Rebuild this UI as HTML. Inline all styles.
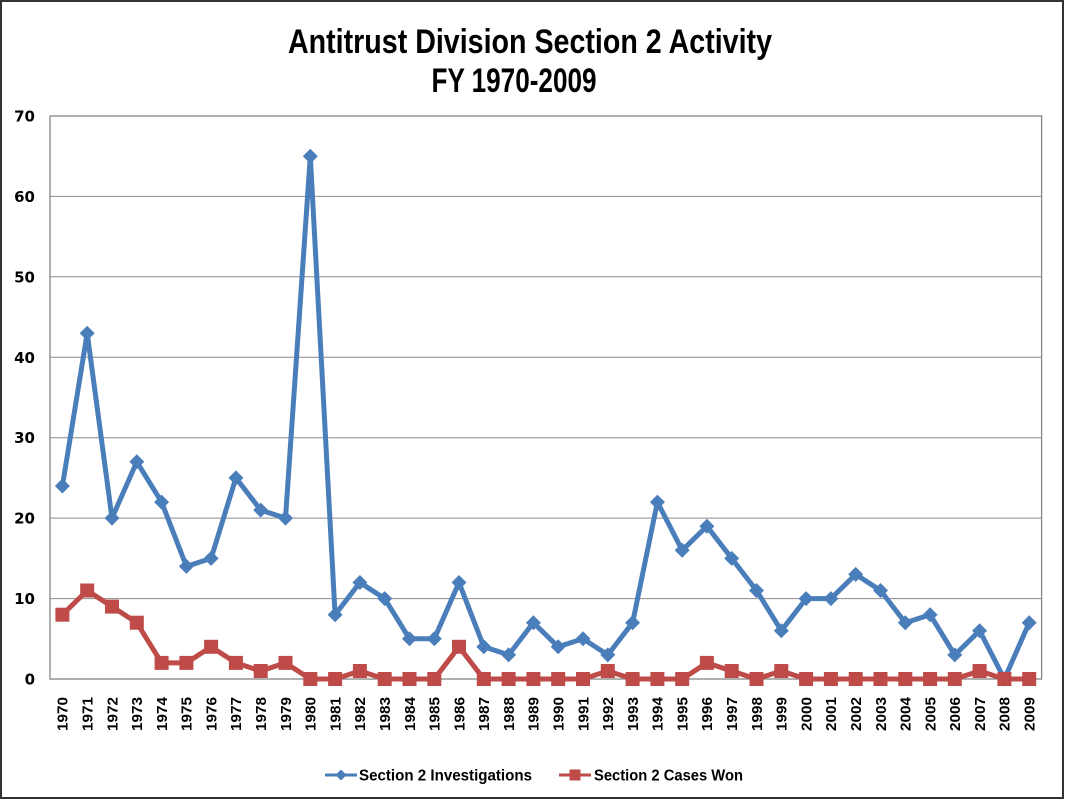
<!DOCTYPE html>
<html><head><meta charset="utf-8"><style>
html,body{margin:0;padding:0;background:#fff;}
svg{display:block;}
</style></head><body>
<svg width="1065" height="800" viewBox="0 0 1065 800" xmlns="http://www.w3.org/2000/svg">
<defs>
<path id="dm" d="M0,-7.5 L7.5,0 L0,7.5 L-7.5,0 Z" fill="#4A7EBB"/>
<rect id="sq" x="-7" y="-7" width="14" height="14" fill="#BE4B48"/>
</defs>
<rect x="0" y="0" width="1065" height="800" fill="#fff"/>
<rect x="1" y="1" width="1062" height="797" fill="none" stroke="#333" stroke-width="2"/>
<g font-family="'Liberation Sans', sans-serif" font-weight="bold" fill="#000">
<text x="530" y="53" font-size="34" text-anchor="middle" textLength="484" lengthAdjust="spacingAndGlyphs">Antitrust Division Section 2 Activity</text>
<text x="514" y="92" font-size="34" text-anchor="middle" textLength="165" lengthAdjust="spacingAndGlyphs">FY 1970-2009</text>
</g>
<!-- gridlines -->
<g stroke="#8c8c8c" stroke-width="1">
<line x1="50" x2="1042" y1="598.6" y2="598.6"/>
<line x1="50" x2="1042" y1="518.1" y2="518.1"/>
<line x1="50" x2="1042" y1="437.7" y2="437.7"/>
<line x1="50" x2="1042" y1="357.3" y2="357.3"/>
<line x1="50" x2="1042" y1="276.8" y2="276.8"/>
<line x1="50" x2="1042" y1="196.4" y2="196.4"/>
</g>
<rect x="50" y="116" width="991.6" height="563" fill="none" stroke="#868686" stroke-width="1.3"/>
<!-- y labels -->
<g font-family="'DejaVu Sans', sans-serif" font-weight="bold" font-size="15" text-anchor="end" fill="#000">
<text x="35" y="684.5">0</text>
<text x="35" y="604.1">10</text>
<text x="35" y="523.6">20</text>
<text x="35" y="443.2">30</text>
<text x="35" y="362.8">40</text>
<text x="35" y="282.3">50</text>
<text x="35" y="201.9">60</text>
<text x="35" y="121.5">70</text>
</g>
<!-- x labels -->
<g font-family="'Liberation Sans', sans-serif" font-weight="bold" font-size="15" text-anchor="end" fill="#000">
<text transform="translate(67.7,697) rotate(-90)" textLength="34" lengthAdjust="spacingAndGlyphs">1970</text>
<text transform="translate(92.5,697) rotate(-90)" textLength="34" lengthAdjust="spacingAndGlyphs">1971</text>
<text transform="translate(117.3,697) rotate(-90)" textLength="34" lengthAdjust="spacingAndGlyphs">1972</text>
<text transform="translate(142.1,697) rotate(-90)" textLength="34" lengthAdjust="spacingAndGlyphs">1973</text>
<text transform="translate(166.9,697) rotate(-90)" textLength="34" lengthAdjust="spacingAndGlyphs">1974</text>
<text transform="translate(191.7,697) rotate(-90)" textLength="34" lengthAdjust="spacingAndGlyphs">1975</text>
<text transform="translate(216.4,697) rotate(-90)" textLength="34" lengthAdjust="spacingAndGlyphs">1976</text>
<text transform="translate(241.2,697) rotate(-90)" textLength="34" lengthAdjust="spacingAndGlyphs">1977</text>
<text transform="translate(266.0,697) rotate(-90)" textLength="34" lengthAdjust="spacingAndGlyphs">1978</text>
<text transform="translate(290.8,697) rotate(-90)" textLength="34" lengthAdjust="spacingAndGlyphs">1979</text>
<text transform="translate(315.6,697) rotate(-90)" textLength="34" lengthAdjust="spacingAndGlyphs">1980</text>
<text transform="translate(340.4,697) rotate(-90)" textLength="34" lengthAdjust="spacingAndGlyphs">1981</text>
<text transform="translate(365.2,697) rotate(-90)" textLength="34" lengthAdjust="spacingAndGlyphs">1982</text>
<text transform="translate(390.0,697) rotate(-90)" textLength="34" lengthAdjust="spacingAndGlyphs">1983</text>
<text transform="translate(414.8,697) rotate(-90)" textLength="34" lengthAdjust="spacingAndGlyphs">1984</text>
<text transform="translate(439.6,697) rotate(-90)" textLength="34" lengthAdjust="spacingAndGlyphs">1985</text>
<text transform="translate(464.3,697) rotate(-90)" textLength="34" lengthAdjust="spacingAndGlyphs">1986</text>
<text transform="translate(489.1,697) rotate(-90)" textLength="34" lengthAdjust="spacingAndGlyphs">1987</text>
<text transform="translate(513.9,697) rotate(-90)" textLength="34" lengthAdjust="spacingAndGlyphs">1988</text>
<text transform="translate(538.7,697) rotate(-90)" textLength="34" lengthAdjust="spacingAndGlyphs">1989</text>
<text transform="translate(563.5,697) rotate(-90)" textLength="34" lengthAdjust="spacingAndGlyphs">1990</text>
<text transform="translate(588.3,697) rotate(-90)" textLength="34" lengthAdjust="spacingAndGlyphs">1991</text>
<text transform="translate(613.1,697) rotate(-90)" textLength="34" lengthAdjust="spacingAndGlyphs">1992</text>
<text transform="translate(637.9,697) rotate(-90)" textLength="34" lengthAdjust="spacingAndGlyphs">1993</text>
<text transform="translate(662.7,697) rotate(-90)" textLength="34" lengthAdjust="spacingAndGlyphs">1994</text>
<text transform="translate(687.5,697) rotate(-90)" textLength="34" lengthAdjust="spacingAndGlyphs">1995</text>
<text transform="translate(712.2,697) rotate(-90)" textLength="34" lengthAdjust="spacingAndGlyphs">1996</text>
<text transform="translate(737.0,697) rotate(-90)" textLength="34" lengthAdjust="spacingAndGlyphs">1997</text>
<text transform="translate(761.8,697) rotate(-90)" textLength="34" lengthAdjust="spacingAndGlyphs">1998</text>
<text transform="translate(786.6,697) rotate(-90)" textLength="34" lengthAdjust="spacingAndGlyphs">1999</text>
<text transform="translate(811.4,697) rotate(-90)" textLength="34" lengthAdjust="spacingAndGlyphs">2000</text>
<text transform="translate(836.2,697) rotate(-90)" textLength="34" lengthAdjust="spacingAndGlyphs">2001</text>
<text transform="translate(861.0,697) rotate(-90)" textLength="34" lengthAdjust="spacingAndGlyphs">2002</text>
<text transform="translate(885.8,697) rotate(-90)" textLength="34" lengthAdjust="spacingAndGlyphs">2003</text>
<text transform="translate(910.6,697) rotate(-90)" textLength="34" lengthAdjust="spacingAndGlyphs">2004</text>
<text transform="translate(935.4,697) rotate(-90)" textLength="34" lengthAdjust="spacingAndGlyphs">2005</text>
<text transform="translate(960.1,697) rotate(-90)" textLength="34" lengthAdjust="spacingAndGlyphs">2006</text>
<text transform="translate(984.9,697) rotate(-90)" textLength="34" lengthAdjust="spacingAndGlyphs">2007</text>
<text transform="translate(1009.7,697) rotate(-90)" textLength="34" lengthAdjust="spacingAndGlyphs">2008</text>
<text transform="translate(1034.5,697) rotate(-90)" textLength="34" lengthAdjust="spacingAndGlyphs">2009</text>
</g>
<!-- Investigations -->
<polyline fill="none" stroke="#4A7EBB" stroke-width="5" stroke-linejoin="round" stroke-linecap="round" points="62.4,486.0 87.2,333.2 112.0,518.1 136.8,461.8 161.6,502.1 186.4,566.4 211.1,558.4 235.9,477.9 260.7,510.1 285.5,518.1 310.3,156.2 335.1,614.7 359.9,582.5 384.7,598.6 409.5,638.8 434.3,638.8 459.0,582.5 483.8,646.8 508.6,654.9 533.4,622.7 558.2,646.8 583.0,638.8 607.8,654.9 632.6,622.7 657.4,502.1 682.2,550.3 706.9,526.2 731.7,558.4 756.5,590.5 781.3,630.7 806.1,598.6 830.9,598.6 855.7,574.4 880.5,590.5 905.3,622.7 930.1,614.7 954.8,654.9 979.6,630.7 1004.4,679 1029.2,622.7"/>
<g>
<use href="#dm" x="62.4" y="486.0"/><use href="#dm" x="87.2" y="333.2"/><use href="#dm" x="112.0" y="518.1"/><use href="#dm" x="136.8" y="461.8"/><use href="#dm" x="161.6" y="502.1"/><use href="#dm" x="186.4" y="566.4"/><use href="#dm" x="211.1" y="558.4"/><use href="#dm" x="235.9" y="477.9"/><use href="#dm" x="260.7" y="510.1"/><use href="#dm" x="285.5" y="518.1"/><use href="#dm" x="310.3" y="156.2"/><use href="#dm" x="335.1" y="614.7"/><use href="#dm" x="359.9" y="582.5"/><use href="#dm" x="384.7" y="598.6"/><use href="#dm" x="409.5" y="638.8"/><use href="#dm" x="434.3" y="638.8"/><use href="#dm" x="459.0" y="582.5"/><use href="#dm" x="483.8" y="646.8"/><use href="#dm" x="508.6" y="654.9"/><use href="#dm" x="533.4" y="622.7"/><use href="#dm" x="558.2" y="646.8"/><use href="#dm" x="583.0" y="638.8"/><use href="#dm" x="607.8" y="654.9"/><use href="#dm" x="632.6" y="622.7"/><use href="#dm" x="657.4" y="502.1"/><use href="#dm" x="682.2" y="550.3"/><use href="#dm" x="706.9" y="526.2"/><use href="#dm" x="731.7" y="558.4"/><use href="#dm" x="756.5" y="590.5"/><use href="#dm" x="781.3" y="630.7"/><use href="#dm" x="806.1" y="598.6"/><use href="#dm" x="830.9" y="598.6"/><use href="#dm" x="855.7" y="574.4"/><use href="#dm" x="880.5" y="590.5"/><use href="#dm" x="905.3" y="622.7"/><use href="#dm" x="930.1" y="614.7"/><use href="#dm" x="954.8" y="654.9"/><use href="#dm" x="979.6" y="630.7"/><use href="#dm" x="1004.4" y="679"/><use href="#dm" x="1029.2" y="622.7"/>
</g>
<!-- Cases Won -->
<polyline fill="none" stroke="#BE4B48" stroke-width="5" stroke-linejoin="round" stroke-linecap="round" points="62.4,614.7 87.2,590.5 112.0,606.6 136.8,622.7 161.6,662.9 186.4,662.9 211.1,646.8 235.9,662.9 260.7,671.0 285.5,662.9 310.3,679 335.1,679 359.9,671.0 384.7,679 409.5,679 434.3,679 459.0,646.8 483.8,679 508.6,679 533.4,679 558.2,679 583.0,679 607.8,671.0 632.6,679 657.4,679 682.2,679 706.9,662.9 731.7,671.0 756.5,679 781.3,671.0 806.1,679 830.9,679 855.7,679 880.5,679 905.3,679 930.1,679 954.8,679 979.6,671.0 1004.4,679 1029.2,679"/>
<g>
<use href="#sq" x="62.4" y="614.7"/><use href="#sq" x="87.2" y="590.5"/><use href="#sq" x="112.0" y="606.6"/><use href="#sq" x="136.8" y="622.7"/><use href="#sq" x="161.6" y="662.9"/><use href="#sq" x="186.4" y="662.9"/><use href="#sq" x="211.1" y="646.8"/><use href="#sq" x="235.9" y="662.9"/><use href="#sq" x="260.7" y="671.0"/><use href="#sq" x="285.5" y="662.9"/><use href="#sq" x="310.3" y="679"/><use href="#sq" x="335.1" y="679"/><use href="#sq" x="359.9" y="671.0"/><use href="#sq" x="384.7" y="679"/><use href="#sq" x="409.5" y="679"/><use href="#sq" x="434.3" y="679"/><use href="#sq" x="459.0" y="646.8"/><use href="#sq" x="483.8" y="679"/><use href="#sq" x="508.6" y="679"/><use href="#sq" x="533.4" y="679"/><use href="#sq" x="558.2" y="679"/><use href="#sq" x="583.0" y="679"/><use href="#sq" x="607.8" y="671.0"/><use href="#sq" x="632.6" y="679"/><use href="#sq" x="657.4" y="679"/><use href="#sq" x="682.2" y="679"/><use href="#sq" x="706.9" y="662.9"/><use href="#sq" x="731.7" y="671.0"/><use href="#sq" x="756.5" y="679"/><use href="#sq" x="781.3" y="671.0"/><use href="#sq" x="806.1" y="679"/><use href="#sq" x="830.9" y="679"/><use href="#sq" x="855.7" y="679"/><use href="#sq" x="880.5" y="679"/><use href="#sq" x="905.3" y="679"/><use href="#sq" x="930.1" y="679"/><use href="#sq" x="954.8" y="679"/><use href="#sq" x="979.6" y="671.0"/><use href="#sq" x="1004.4" y="679"/><use href="#sq" x="1029.2" y="679"/>
</g>
<!-- legend -->
<line x1="325" y1="775" x2="357" y2="775" stroke="#4A7EBB" stroke-width="3"/>
<path d="M341,769.5 L346.5,775 L341,780.5 L335.5,775 Z" fill="#4A7EBB"/>
<line x1="559" y1="775" x2="591" y2="775" stroke="#BE4B48" stroke-width="3"/>
<rect x="569.5" y="769.5" width="11" height="11" fill="#BE4B48"/>
<g font-family="'Liberation Sans', sans-serif" font-weight="bold" font-size="16" fill="#000">
<text x="359" y="780.5" textLength="173" lengthAdjust="spacingAndGlyphs">Section 2 Investigations</text>
<text x="594" y="780.5" textLength="149" lengthAdjust="spacingAndGlyphs">Section 2 Cases Won</text>
</g>
</svg>
</body></html>
